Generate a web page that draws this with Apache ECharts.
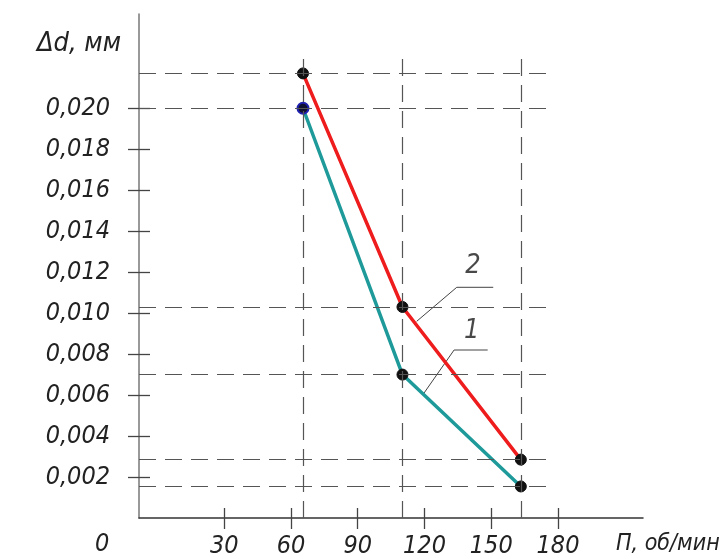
<!DOCTYPE html>
<html>
<head>
<meta charset="utf-8">
<script src="https://cdn.jsdelivr.net/npm/echarts@6/dist/echarts.min.js"></script>
<style>
  html, body { margin: 0; padding: 0; background: #fff; }
  #chart { width: 725px; height: 559px; }
</style>
</head>
<body>
<div id="chart"></div>
<script>
// Spindle speed, rpm
const rpm = [65.4, 110.1, 163.3];
// Diameter deviation Δd, mm, for curve 1 and curve 2
const deltaCurve1 = [0.0200, 0.0070, 0.00154];
const deltaCurve2 = [0.0217, 0.0103, 0.00285];
// Axis ticks
const xTicks = [30, 60, 90, 120, 150, 180];
const yTicks = [0.002, 0.004, 0.006, 0.008, 0.010, 0.012, 0.014, 0.016, 0.018, 0.020];
// Callout leaders (data coordinates) and their numbers
const leader1 = [[119.8, 0.0061], [133.3, 0.0082], [148.4, 0.0082]];
const leader2 = [[116.5, 0.0096], [134.5, 0.01126], [150.9, 0.01126]];
const calloutNames = ['1', '2'];
const calloutPos = [[141.2, 0.00915], [141.8, 0.01228]];

const X_MIN = -8.3, X_MAX = 218.2, Y_MAX = 0.0246;
const GUIDE_X_END = 176, GUIDE_Y_TOP = 0.0225;

const FONT = '"Liberation Sans Narrow", "DejaVu Sans Condensed", sans-serif';
const TXT = { fontFamily: FONT, fontStyle: 'italic', fontSize: 25, color: '#222' };
const CSS_FONT = 'italic 25px ' + FONT;

const pairs = (xs, ys) => xs.map((x, i) => [x, ys[i]]);

// dashed projection lines from each point to the axes
const guideLines = [];
[deltaCurve1, deltaCurve2].forEach(ys => ys.forEach(y => {
  guideLines.push([{ coord: [X_MIN, y] }, { coord: [GUIDE_X_END, y] }]);
}));
rpm.forEach(x => guideLines.push([{ coord: [x, 0] }, { coord: [x, GUIDE_Y_TOP] }]));

const fmtY = v => v.toFixed(3).replace('.', ',');

const baseX = {
  type: 'value', min: X_MIN, max: X_MAX,
  splitLine: { show: false }
};
const baseY = {
  type: 'value', min: 0, max: Y_MAX,
  splitLine: { show: false }
};
const tickStyle = { color: '#444', width: 1.3 };

const chart = echarts.init(document.getElementById('chart'), null, { renderer: 'canvas' });
chart.setOption({
  animation: false,
  backgroundColor: '#fff',
  grid: { left: 139, right: 82, top: 14, bottom: 41, outerBoundsMode: 'none' },
  xAxis: [
    Object.assign({}, baseX, {
      axisLine: { onZero: false, lineStyle: { color: '#333', width: 1.5 } },
      axisTick: { show: true, length: 11, customValues: xTicks, lineStyle: tickStyle },
      axisLabel: Object.assign({ customValues: xTicks, margin: 16 }, TXT)
    }),
    Object.assign({}, baseX, {
      position: 'bottom',
      axisLine: { show: false, onZero: false },
      axisTick: { show: true, inside: true, length: 10, customValues: xTicks, lineStyle: tickStyle },
      axisLabel: { show: false }
    })
  ],
  yAxis: [
    Object.assign({}, baseY, {
      axisLine: { onZero: false, lineStyle: { color: '#777', width: 1.5 } },
      axisTick: { show: true, length: 11, customValues: yTicks, lineStyle: tickStyle },
      axisLabel: Object.assign({ customValues: yTicks, margin: 29, formatter: fmtY }, TXT)
    }),
    Object.assign({}, baseY, {
      position: 'left',
      axisLine: { show: false, onZero: false },
      axisTick: { show: true, inside: true, length: 11, customValues: yTicks, lineStyle: tickStyle },
      axisLabel: { show: false }
    })
  ],
  graphic: [
    { type: 'text', left: 95, top: 532, style: { text: '0', fill: '#222', font: CSS_FONT } },
    { type: 'text', right: 725 - 121, top: 30, style: { text: 'Δd, мм', fill: '#222', font: 'italic 27px ' + FONT } },
    { type: 'text', left: 616, top: 533, style: { text: 'П, об/мин', fill: '#222', font: 'italic 23px ' + FONT } }
  ],
  series: [
    {
      // projection guides
      type: 'line', data: [], z: 1, silent: true,
      markLine: {
        silent: true, symbol: 'none', animation: false,
        label: { show: false },
        lineStyle: { type: [17, 9], color: '#555', width: 1.2 },
        data: guideLines
      }
    },
    {
      name: '1', type: 'line', z: 3,
      data: pairs(rpm, deltaCurve1).map((p, i) => i === 0
        ? { value: p, itemStyle: { color: '#101030', borderColor: '#2020b0', borderWidth: 2 } }
        : { value: p }),
      lineStyle: { color: '#1f9a9a', width: 3.5 },
      symbol: 'circle', symbolSize: 11,
      itemStyle: { color: '#111', borderColor: '#111', borderWidth: 1 }
    },
    {
      name: '2', type: 'line', z: 3,
      data: pairs(rpm, deltaCurve2),
      lineStyle: { color: '#ee1c1c', width: 3.5 },
      symbol: 'circle', symbolSize: 11,
      itemStyle: { color: '#111', borderColor: '#111', borderWidth: 1 }
    },
    {
      type: 'line', data: leader1, z: 2, silent: true, symbol: 'none',
      lineStyle: { color: '#444', width: 1 }
    },
    {
      type: 'line', data: leader2, z: 2, silent: true, symbol: 'none',
      lineStyle: { color: '#444', width: 1 }
    },
    {
      type: 'scatter', z: 4, silent: true, symbolSize: 0,
      data: calloutPos.map((p, i) => ({ value: p, name: calloutNames[i] })),
      label: Object.assign({ show: true, position: 'inside', formatter: '{b}' }, TXT,
        { fontSize: 27, color: '#1a1a1a', textBorderWidth: 0 })
    }
  ]
});
</script>
</body>
</html>
